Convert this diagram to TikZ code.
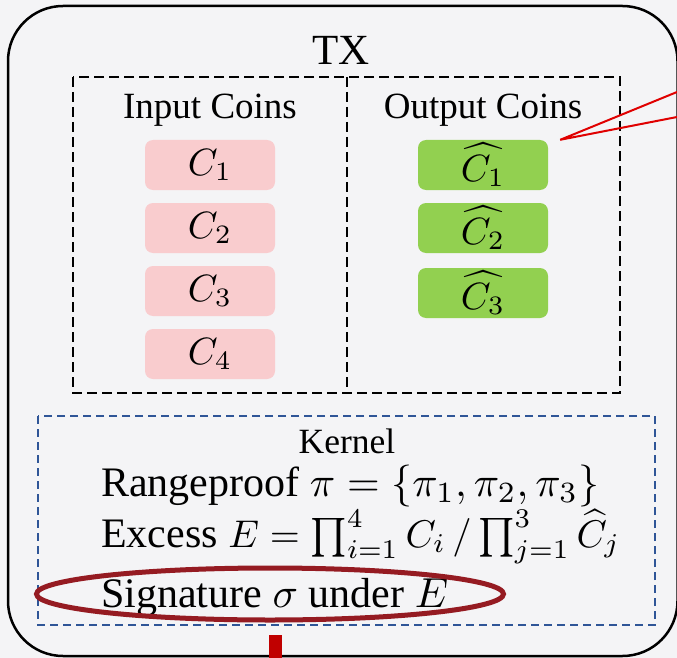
\documentclass[tikz,border=0pt]{standalone}
\usepackage{amsmath}
\usepackage{fontspec}
\setmainfont{Liberation Serif}[Ligatures=TeX]
\usetikzlibrary{shapes.geometric}
\definecolor{bgcol}{HTML}{F4F4F6}
\definecolor{pinkcoin}{HTML}{F9CCCE}
\definecolor{greencoin}{HTML}{92D050}
\definecolor{kernelblue}{HTML}{2F5597}
\definecolor{ringred}{HTML}{951B22}
\definecolor{callred}{HTML}{E00000}
\definecolor{barred}{HTML}{C00000}
% text is set at 10pt and enlarged, so the math fonts keep their shapes
\newcommand{\at}[2]{\scalebox{#1}{\fontsize{10}{12}\selectfont #2}}
\newcommand{\tightmath}[1]{\scalebox{0.92}{$#1$}}
\tikzset{
  coin/.style={rounded corners=8pt, minimum width=130pt, minimum height=50pt,
    inner sep=0pt},
  incoin/.style={coin, fill=pinkcoin},
  outcoin/.style={coin, fill=greencoin},
  kline/.style={anchor=base west, inner sep=0pt},
}
\begin{document}
\begin{tikzpicture}[x=1pt, y=-1pt]
  % canvas
  \fill[bgcol] (0,0) rectangle (677,658);
  \useasboundingbox (0,0) rectangle (677,658);

  % transaction frame
  \draw[line width=2.5pt, rounded corners=55pt] (8,6) rectangle (677.5,656);
  \node (tx) at (341,50) {\at{4.3}{TX}};

  % coin area
  \draw[line width=2pt, dash pattern=on 10pt off 5pt] (73,77) rectangle (620,393);
  \draw[line width=2pt, dash pattern=on 10pt off 5pt] (347,77) -- (347,393);
  \node (inh) at (210,110) {\at{3.7}{Input Coins}};
  \node (outh) at (483,110) {\at{3.7}{Output Coins}};

  \node[incoin] (c1) at (210,165) {\at{3.8}{$C_1$}};
  \node[incoin] (c2) at (210,228) {\at{3.8}{$C_2$}};
  \node[incoin] (c3) at (210,291) {\at{3.8}{$C_3$}};
  \node[incoin] (c4) at (210,354) {\at{3.8}{$C_4$}};

  \node[outcoin] (o1) at (483,165) {\at{3.8}{$\widehat{C_1}$}};
  \node[outcoin] (o2) at (483,228) {\at{3.8}{$\widehat{C_2}$}};
  \node[outcoin] (o3) at (483,293) {\at{3.8}{$\widehat{C_3}$}};

  % callout pointing at the output coins
  \coordinate (tipA) at (677,92);
  \coordinate (tipB) at (677,117);
  \coordinate (apex) at ([xshift=12pt]o1.north east);
  \draw[callred, line width=2pt] (tipA) -- (apex) -- (tipB);

  % kernel
  \draw[kernelblue, line width=2pt, dash pattern=on 8pt off 5pt] (38,416) rectangle (655,625);
  \node (kern) at (347,441) {\at{3.55}{Kernel}};
  \node[kline] (rp) at (101,496) {\at{4.2}{Rangeproof $\pi=\{\pi_1,\pi_2,\pi_3\}$}};
  \node[kline] (ex) at (101,547) {\at{4.2}{Excess \tightmath{E=\prod_{i=1}^{4}C_i\,/\prod_{j=1}^{3}\widehat{C}_j}}};
  \node[kline] (sig) at (101,607) {\at{4.2}{Signature $\sigma$ under $E$}};
  \node[draw=ringred, line width=5pt, ellipse, minimum width=467pt, minimum height=52pt,
        inner sep=0pt] (ring) at (270,594) {};

  % link leaving the frame
  \fill[barred] (269,635) rectangle (282,658);
\end{tikzpicture}
\end{document}
